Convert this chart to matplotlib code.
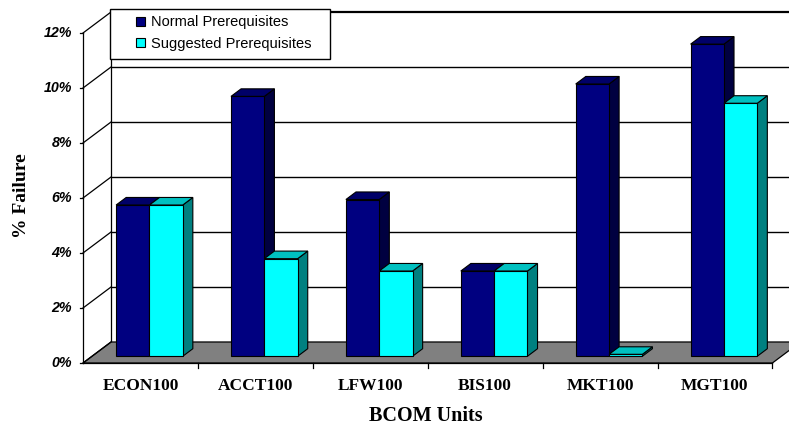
import numpy as np
import matplotlib.pyplot as plt
from matplotlib.patches import Polygon, Rectangle, Patch

units = ["ECON100", "ACCT100", "LFW100", "BIS100", "MKT100", "MGT100"]
normal = [5.5, 9.45, 5.7, 3.1, 9.9, 11.35]
suggested = [5.5, 3.55, 3.1, 3.1, 0.07, 9.2]
yticks = [0, 2, 4, 6, 8, 10, 12]

# fake 3d: depth vector of the whole floor in data units
DX, DY = 0.244, 0.764
BAR_D0, BAR_DD = 0.32, 0.36  # bar front plane and bar depth (fractions of floor depth)
BAR_W = 0.29
GAP = 0.21

navy = ("#000080", "#000068", "#000040")
cyan = ("#00FFFF", "#00C0C0", "#008080")

W, H = 789, 428
fig = plt.figure(figsize=(W / 100, H / 100), dpi=100)
ax = fig.add_axes([0, 0, 1, 1])
# axis limits chosen so that x=0..6 spans the front axis and y=0..12 the value range
x0px, xunit = 83, 114.9
y0px, yunit = 363, 27.5
ax.set_xlim(-x0px / xunit, (W - x0px) / xunit)
ax.set_ylim(-(H - y0px) / yunit, y0px / yunit)
ax.axis("off")

n = len(units)
lw = 0.9

# floor
floor = Polygon([(0, 0), (n, 0), (n + DX, DY), (DX, DY)], closed=True,
                facecolor="#808080", edgecolor="black", lw=lw, zorder=1)
ax.add_patch(floor)

# back wall gridlines and left wall diagonals
xr = ax.get_xlim()[1]
for k in yticks:
    if k > 0:
        ax.plot([DX, xr], [k + DY, k + DY], color="black", lw=1.0 if k < 12 else 1.6,
                zorder=0.5, solid_capstyle="butt")
    ax.plot([0, DX], [k, k + DY], color="black", lw=lw, zorder=2)
    ax.plot([-0.03, 0], [k, k], color="black", lw=lw, zorder=2)
    ax.text(-0.095, k, f"{k}%", ha="right", va="center", fontsize=10.3,
            fontweight="bold", fontstyle="italic", family="Liberation Sans")
ax.plot([DX, DX], [DY, yticks[-1] + DY], color="black", lw=lw, zorder=0.6)
ax.plot([0, 0], [0, yticks[-1]], color="black", lw=lw, zorder=2)

# category axis and ticks
ax.plot([0, n], [0, 0], color="black", lw=lw, zorder=2)
for i in range(1, n + 1):
    ax.plot([i, i], [0, -0.18], color="black", lw=lw, zorder=2)
for i, u in enumerate(units):
    ax.text(i + 0.5, -0.83, u, ha="center", va="center", fontsize=12.5,
            fontweight="bold", family="Liberation Serif")


def bar3d(x, v, colors, z):
    front, top, side = colors
    yb = BAR_D0 * DY
    dx, dy = BAR_DD * DX, BAR_DD * DY
    yt = yb + v
    kw = dict(edgecolor="black", lw=0.8, zorder=z, joinstyle="miter")
    ax.add_patch(Polygon([(x + BAR_W, yb), (x + BAR_W, yt), (x + BAR_W + dx, yt + dy),
                          (x + BAR_W + dx, yb + dy)], facecolor=side, **kw))
    ax.add_patch(Polygon([(x, yt), (x + BAR_W, yt), (x + BAR_W + dx, yt + dy),
                          (x + dx, yt + dy)], facecolor=top, **kw))
    ax.add_patch(Rectangle((x, yb), BAR_W, v, facecolor=front, **kw))


z = 3
for i in range(n):
    xl = i + GAP + BAR_D0 * DX
    bar3d(xl, normal[i], navy, z)
    bar3d(xl + BAR_W, suggested[i], cyan, z + 1)
    z += 2

# legend box
fig.add_artist(Rectangle((110 / W, 1 - 59 / H), 220 / W, 50 / H, transform=fig.transFigure,
                         facecolor="white", edgecolor="black", lw=1.0, zorder=20))
handles = [Patch(facecolor=navy[0], edgecolor="black", lw=0.8),
           Patch(facecolor=cyan[0], edgecolor="black", lw=0.8)]
leg = fig.legend(handles, ["Normal Prerequisites", "Suggested Prerequisites"],
                 loc="upper left", bbox_to_anchor=(132 / W, 1 - 11 / H), frameon=False,
                 prop={"family": "Liberation Sans", "size": 10.5}, handlelength=0.6,
                 handleheight=0.6, handletextpad=0.4, labelspacing=0.5,
                 borderpad=0.3, borderaxespad=0)
leg.set_zorder(21)

fig.text(426 / W, 1 - 416 / H, "BCOM Units", ha="center", va="center", fontsize=14.5,
         fontweight="bold", family="Liberation Serif")
fig.text(21 / W, 1 - 196 / H, "% Failure", ha="center", va="center", rotation=90,
         fontsize=14, fontweight="bold", family="Liberation Serif")

fig.savefig("out.png", dpi=100)
